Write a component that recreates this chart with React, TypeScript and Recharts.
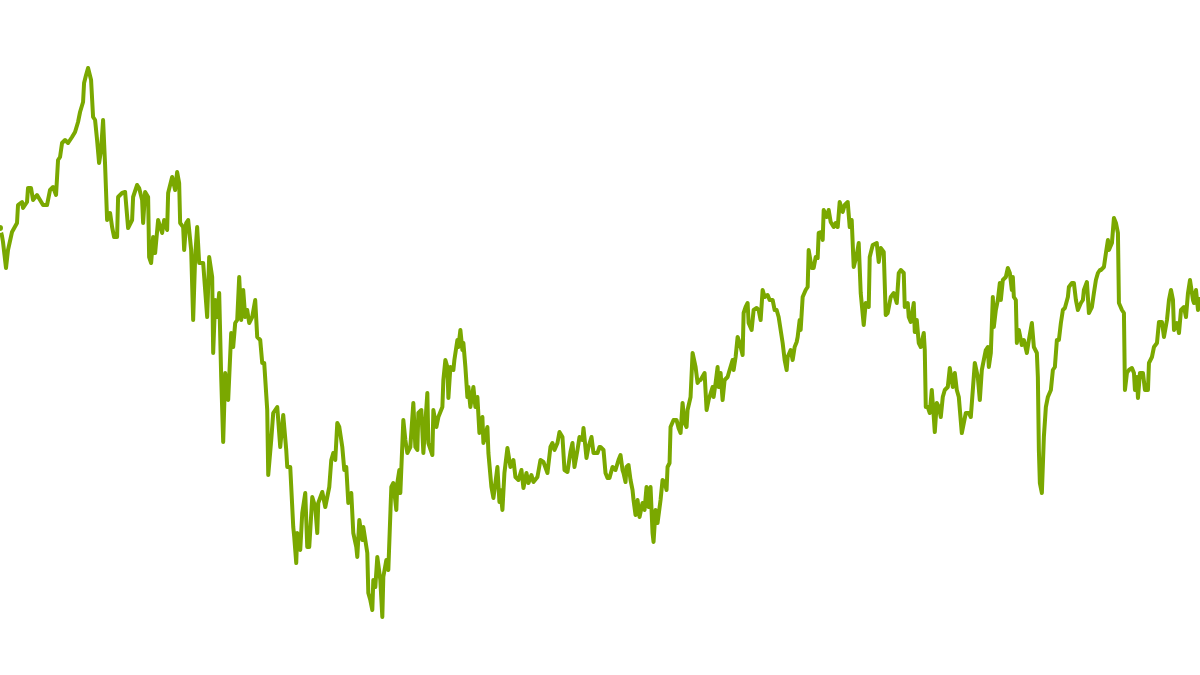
import { LineChart, Line, XAxis, YAxis } from 'recharts';

// [session, index level], one array per 100 sessions
const leg1: [number, number][] = [
  [0, 447], [2, 439], [3, 433], [6, 407], [8, 425], [12, 443], [17, 452], [18, 470], [22, 473], [23, 467],
  [27, 473], [28, 487], [31, 487], [33, 475], [37, 480], [40, 475], [43, 470], [47, 470], [50, 485], [53, 488],
  [56, 480], [58, 515], [60, 518], [62, 532], [65, 535], [68, 532], [72, 538], [75, 543], [78, 553], [80, 563],
  [83, 573], [84, 592], [86, 600], [88, 607], [91, 595], [93, 558], [95, 555], [97, 535], [99, 512],
];
const leg2: [number, number][] = [
  [101, 525], [103, 555], [105, 510], [107, 455], [110, 462], [112, 448], [114, 438], [117, 438], [118, 478], [122, 482],
  [125, 483], [128, 447], [132, 455], [133, 478], [137, 490], [139, 487], [142, 475], [143, 452], [145, 483], [148, 478],
  [149, 418], [151, 412], [153, 438], [155, 422], [158, 455], [162, 442], [164, 455], [167, 445], [168, 482], [172, 498],
  [175, 485], [177, 503], [179, 492], [180, 452], [183, 448], [184, 425], [186, 452], [188, 455], [191, 425], [193, 355],
  [195, 418], [197, 448], [199, 412],
];
const leg3: [number, number][] = [
  [200, 412], [203, 412], [205, 385], [207, 358], [209, 418], [212, 398], [213, 322], [215, 375], [217, 358], [219, 382],
  [221, 298], [223, 233], [225, 302], [228, 275], [231, 342], [233, 328], [235, 352], [237, 355], [239, 398], [241, 355],
  [243, 385], [245, 358], [247, 365], [249, 352], [252, 358], [255, 375], [257, 338], [260, 335], [262, 312], [264, 312],
  [267, 265], [268, 200], [271, 235], [273, 262], [277, 268], [278, 255], [280, 228], [283, 260], [286, 225], [287, 208],
  [290, 208], [293, 148], [294, 138], [296, 112], [297, 142], [299, 135],
];
const leg4: [number, number][] = [
  [300, 125], [302, 162], [305, 182], [307, 128], [309, 128], [312, 178], [315, 168], [317, 142], [318, 172], [322, 183],
  [325, 168], [327, 178], [329, 188], [331, 215], [333, 222], [335, 215], [337, 252], [339, 248], [342, 228], [344, 205],
  [346, 208], [348, 172], [351, 182], [353, 142], [356, 128], [357, 118], [359, 155], [362, 135], [363, 148], [367, 122],
  [368, 82], [370, 75], [372, 65], [373, 95], [375, 88], [377, 118], [380, 95], [382, 58], [383, 98], [386, 115],
  [388, 105], [391, 188], [393, 192], [396, 165], [397, 192], [399, 205],
];
const leg5: [number, number][] = [
  [400, 182], [403, 255], [405, 235], [407, 222], [410, 228], [413, 272], [415, 228], [417, 225], [418, 262], [421, 265],
  [423, 222], [425, 252], [427, 282], [428, 232], [432, 220], [433, 265], [436, 248], [438, 258], [442, 268], [443, 295],
  [445, 315], [447, 308], [448, 277], [450, 308], [453, 305], [454, 315], [457, 335], [458, 328], [460, 345], [462, 325],
  [463, 332], [465, 308], [467, 278], [468, 288], [470, 268], [473, 288], [475, 268], [477, 278], [479, 242], [482, 258],
  [483, 232], [487, 248], [488, 222], [491, 188], [493, 177], [495, 192], [497, 208], [499, 173],
];
const leg6: [number, number][] = [
  [500, 185], [502, 165], [504, 202], [507, 227], [510, 208], [513, 215], [515, 198], [518, 195], [521, 205], [523, 187],
  [526, 202], [528, 192], [531, 200], [533, 193], [537, 198], [540, 215], [543, 213], [547, 202], [550, 228], [552, 232],
  [554, 225], [557, 232], [559, 243], [562, 238], [564, 205], [567, 203], [570, 223], [572, 232], [574, 208], [577, 225],
  [579, 238], [582, 235], [583, 247], [586, 217], [588, 228], [591, 238], [593, 222], [597, 222], [599, 228],
];
const leg7: [number, number][] = [
  [600, 228], [603, 225], [605, 202], [607, 197], [609, 197], [612, 208], [615, 205], [618, 215], [620, 220], [622, 205],
  [623, 202], [625, 193], [626, 208], [628, 210], [630, 195], [632, 185], [633, 175], [635, 160], [637, 175], [639, 158],
  [642, 172], [644, 165], [646, 188], [648, 168], [650, 188], [652, 142], [653, 133], [655, 165], [657, 152], [660, 175],
  [662, 195], [664, 193], [666, 185], [667, 208], [669, 212], [670, 248], [673, 255], [676, 255], [678, 247], [680, 242],
  [682, 272], [684, 252], [686, 248], [687, 265], [690, 278], [692, 322], [695, 308], [697, 292], [699, 295],
];
const leg8: [number, number][] = [
  [700, 295], [704, 302], [706, 265], [708, 275], [712, 288], [713, 278], [715, 292], [717, 308], [718, 288], [720, 302],
  [722, 275], [724, 295], [727, 298], [729, 305], [732, 315], [733, 305], [735, 318], [737, 338], [739, 332], [742, 320],
  [743, 362], [745, 368], [747, 372], [748, 352], [751, 345], [753, 365], [756, 367], [758, 365], [760, 355], [762, 385],
  [764, 378], [767, 380], [769, 375], [772, 375], [774, 365], [776, 365], [778, 358], [780, 345], [782, 332], [784, 315],
  [786, 305], [787, 318], [790, 325], [792, 315], [794, 328], [796, 333], [797, 338], [799, 355],
];
const leg9: [number, number][] = [
  [800, 345], [802, 378], [805, 385], [807, 388], [808, 425], [811, 407], [813, 407], [815, 418], [817, 417], [818, 442],
  [821, 443], [822, 435], [823, 465], [826, 458], [828, 465], [830, 453], [833, 448], [835, 452], [837, 448], [839, 473],
  [842, 463], [844, 470], [847, 473], [849, 448], [851, 455], [853, 408], [856, 420], [858, 432], [860, 382], [863, 350],
  [865, 372], [868, 368], [869, 418], [872, 430], [876, 432], [878, 413], [880, 427], [883, 423], [885, 360], [887, 362],
  [890, 378], [893, 382], [896, 372], [898, 402],
];
const leg10: [number, number][] = [
  [900, 405], [903, 402], [904, 368], [907, 372], [908, 358], [910, 353], [913, 372], [914, 343], [916, 355], [918, 332],
  [920, 328], [923, 342], [924, 325], [925, 268], [927, 268], [929, 262], [931, 285], [933, 258], [934, 243], [936, 272],
  [938, 268], [940, 258], [942, 278], [944, 285], [947, 288], [949, 307], [952, 288], [954, 302], [956, 285], [958, 278],
  [961, 242], [963, 252], [965, 262], [968, 262], [970, 258], [972, 285], [974, 312], [977, 298], [979, 275], [981, 305],
  [983, 315], [985, 325], [987, 328], [988, 308], [990, 322], [992, 378], [993, 348], [995, 365], [997, 375], [999, 392],
];
const leg11: [number, number][] = [
  [1000, 375], [1002, 395], [1005, 398], [1007, 407], [1009, 402], [1011, 385], [1012, 398], [1013, 378], [1015, 375], [1016, 332],
  [1018, 345], [1021, 330], [1023, 335], [1026, 322], [1028, 335], [1031, 352], [1033, 328], [1036, 322], [1037, 298], [1038, 225],
  [1039, 192], [1041, 182], [1043, 238], [1045, 268], [1047, 278], [1050, 285], [1052, 305], [1054, 308], [1056, 335], [1058, 335],
  [1060, 352], [1062, 365], [1064, 367], [1067, 378], [1068, 388], [1071, 392], [1073, 392], [1075, 375], [1077, 365], [1080, 372],
  [1082, 375], [1083, 385], [1086, 393], [1088, 362], [1091, 368], [1093, 382], [1095, 395], [1097, 402], [1099, 405],
];
const leg12: [number, number][] = [
  [1100, 405], [1103, 408], [1105, 422], [1107, 435], [1108, 425], [1111, 432], [1113, 457], [1115, 452], [1117, 442], [1118, 372],
  [1121, 365], [1123, 362], [1124, 285], [1126, 302], [1128, 305], [1131, 307], [1133, 302], [1134, 285], [1136, 298], [1137, 277],
  [1139, 302], [1142, 302], [1144, 285], [1147, 285], [1148, 312], [1151, 318], [1153, 328], [1156, 332], [1158, 353], [1161, 353],
  [1163, 338], [1166, 355], [1168, 375], [1170, 385], [1172, 375], [1173, 345], [1176, 352], [1178, 342], [1180, 365], [1183, 368],
  [1185, 358], [1187, 382], [1189, 395], [1192, 375], [1193, 372], [1195, 385], [1197, 365], [1199, 378],
];

const data = [...leg1, ...leg2, ...leg3, ...leg4, ...leg5, ...leg6, ...leg7, ...leg8, ...leg9, ...leg10, ...leg11, ...leg12]
  .map(([session, level]) => ({ session, level }));

export default function App() {
  return (
    <div style={{ position: 'absolute', left: 0, top: 0, width: 1200, height: 675, background: '#fff' }}>
      <LineChart width={1200} height={675} data={data} margin={{ top: 0, right: 0, bottom: 0, left: 0 }}>
        <XAxis dataKey="session" type="number" domain={[0, 1199]} allowDataOverflow hide />
        <YAxis domain={[0, 675]} allowDataOverflow hide />
        <Line
          type="linear"
          dataKey="level"
          stroke="#7aa800"
          strokeWidth={4}
          strokeLinejoin="round"
          dot={false}
          isAnimationActive={false}
        />
      </LineChart>
    </div>
  );
}
